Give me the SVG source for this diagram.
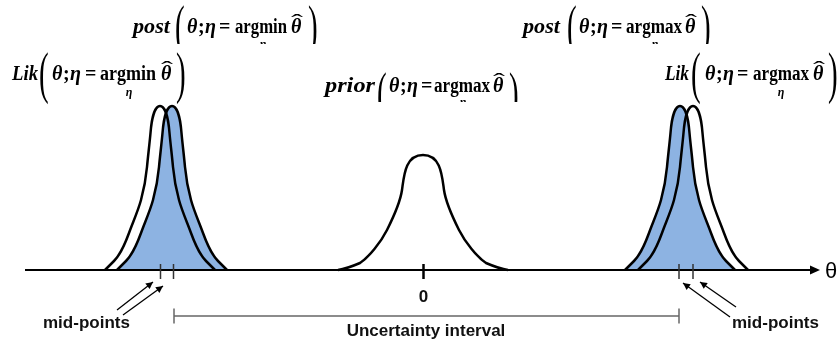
<svg xmlns="http://www.w3.org/2000/svg" xmlns:xlink="http://www.w3.org/1999/xlink" width="837" height="343" viewBox="0 0 837 343">
<style>
.m{font-family:"Liberation Serif","DejaVu Serif",serif;font-size:20px;font-weight:bold;fill:#000}
.i{font-style:italic}
.p{font-family:"Liberation Serif","DejaVu Serif",serif;font-size:58px;font-weight:normal;fill:#000}
.hat{font-family:"Liberation Serif","DejaVu Serif",serif;font-size:20px;font-weight:normal;fill:#000;text-anchor:middle}
.sub{font-family:"Liberation Serif","DejaVu Serif",serif;font-size:12px;font-style:italic;font-weight:bold;fill:#000}
.lbl{font-family:"Liberation Sans",Arial,sans-serif;font-weight:bold;font-size:17px;fill:#111}
.white{fill:#fff;stroke:#000;stroke-width:2.5;stroke-linejoin:round}
.blue{fill:#8db3e2;stroke:none;mix-blend-mode:multiply}
.edge{fill:none;stroke:#000;stroke-width:2.5;stroke-linejoin:round}
.tick{stroke:#333;stroke-width:1.5}
.arr{stroke:#000;stroke-width:1.3;fill:none;marker-end:url(#ah)}
.iv{stroke:#666;stroke-width:1.5}
</style>
<defs>
<path id="pk" d="M -55,0 C -52,-3 -49,-6 -46,-9 C -40,-15 -35,-26 -31,-37 C -27,-48 -22,-59 -19,-70 C -16,-81 -14,-92 -13,-103 C -12,-114 -10.5,-126 -9.5,-137 C -8.5,-150 -5.5,-164 0,-164 C 5.5,-164 8.5,-150 9.5,-137 C 10.5,-126 12,-114 13,-103 C 14,-92 16,-81 19,-70 C 22,-59 27,-48 31,-37 C 35,-26 40,-15 46,-9 C 49,-6 52,-3 55,0"/>
<path id="bump" d="M -85,0 C -78,-1 -70,-4 -63,-7 C -54,-13 -42,-28 -36,-40 C -30,-52 -23,-66 -21,-80 C -19,-94 -18,-115 0,-115 C 18,-115 19,-94 21,-80 C 23,-66 30,-52 36,-40 C 42,-28 54,-13 63,-7 C 70,-4 78,-1 85,0"/>
<marker id="ah" viewBox="0 0 10 10" refX="10" refY="5" markerWidth="8" markerHeight="7" markerUnits="userSpaceOnUse" orient="auto"><path d="M0,0 L10,5 L0,10 z" fill="#000"/></marker>
<clipPath id="clipTop"><rect x="0" y="0" width="837" height="44"/></clipPath>
<clipPath id="clipPrior"><rect x="0" y="60" width="837" height="42"/></clipPath>
</defs>

<g id="lik-min">
<use xlink:href="#pk" href="#pk" class="white" transform="translate(160,270)"/>
<text class="m i" x="12" y="80" textLength="26" lengthAdjust="spacingAndGlyphs">Lik</text>
<text class="p" transform="translate(39,92) scale(0.5,1)">(</text>
<text class="m i" x="52" y="80">θ</text>
<text class="m" x="63" y="80">;</text>
<text class="m i" x="70" y="80">η</text>
<text class="m" x="85" y="80">=</text>
<text class="m" x="100" y="80" textLength="56" lengthAdjust="spacingAndGlyphs">argmin</text>
<text class="sub" x="129" y="96" text-anchor="middle">η</text>
<text class="m i" x="161" y="80">θ</text>
<text class="hat" transform="translate(167,76) scale(1.8,1)">ˆ</text>
<text class="p" transform="translate(176,92) scale(0.5,1)">)</text>
</g>

<g id="post-min">
<use xlink:href="#pk" href="#pk" class="blue" transform="translate(172,270)"/>
<use xlink:href="#pk" href="#pk" class="edge" transform="translate(172,270)"/>
<text class="m i" x="133" y="33" textLength="37" lengthAdjust="spacingAndGlyphs">post</text>
<g clip-path="url(#clipTop)">
<text class="p" transform="translate(175,45) scale(0.5,1)">(</text>
<text class="p" transform="translate(308,45) scale(0.5,1)">)</text>
<text class="sub" x="263" y="48" text-anchor="middle">η</text>
</g>
<text class="m i" x="187" y="33">θ</text>
<text class="m" x="198" y="33">;</text>
<text class="m i" x="205" y="33">η</text>
<text class="m" x="219" y="33">=</text>
<text class="m" x="235" y="33" textLength="52" lengthAdjust="spacingAndGlyphs">argmin</text>
<text class="m i" x="291" y="33">θ</text>
<text class="hat" transform="translate(297,29) scale(1.8,1)">ˆ</text>
</g>

<g id="prior">
<use xlink:href="#bump" href="#bump" class="white" transform="translate(423,270)"/>
<text class="m i" x="325" y="92" textLength="50" lengthAdjust="spacingAndGlyphs">prior</text>
<g clip-path="url(#clipPrior)">
<text class="p" transform="translate(377,112) scale(0.5,1)">(</text>
<text class="p" transform="translate(509,112) scale(0.5,1)">)</text>
<text class="sub" x="463" y="106" text-anchor="middle">η</text>
</g>
<text class="m i" x="389" y="92">θ</text>
<text class="m" x="400" y="92">;</text>
<text class="m i" x="407" y="92">η</text>
<text class="m" x="421" y="92">=</text>
<text class="m" x="434" y="92" textLength="56" lengthAdjust="spacingAndGlyphs">argmax</text>
<text class="m i" x="493" y="92">θ</text>
<text class="hat" transform="translate(499,88) scale(1.8,1)">ˆ</text>
</g>

<g id="lik-max">
<use xlink:href="#pk" href="#pk" class="white" transform="translate(693,270)"/>
<text class="m i" x="665" y="80" textLength="24" lengthAdjust="spacingAndGlyphs">Lik</text>
<text class="p" transform="translate(691,92) scale(0.5,1)">(</text>
<text class="m i" x="705" y="80">θ</text>
<text class="m" x="716" y="80">;</text>
<text class="m i" x="723" y="80">η</text>
<text class="m" x="737" y="80">=</text>
<text class="m" x="753" y="80" textLength="56" lengthAdjust="spacingAndGlyphs">argmax</text>
<text class="sub" x="781" y="96" text-anchor="middle">η</text>
<text class="m i" x="813" y="80">θ</text>
<text class="hat" transform="translate(819,76) scale(1.8,1)">ˆ</text>
<text class="p" transform="translate(828,92) scale(0.5,1)">)</text>
</g>

<g id="post-max">
<use xlink:href="#pk" href="#pk" class="blue" transform="translate(680,270)"/>
<use xlink:href="#pk" href="#pk" class="edge" transform="translate(680,270)"/>
<text class="m i" x="523" y="33" textLength="37" lengthAdjust="spacingAndGlyphs">post</text>
<g clip-path="url(#clipTop)">
<text class="p" transform="translate(567,45) scale(0.5,1)">(</text>
<text class="p" transform="translate(701,45) scale(0.5,1)">)</text>
<text class="sub" x="655" y="48" text-anchor="middle">η</text>
</g>
<text class="m i" x="579" y="33">θ</text>
<text class="m" x="590" y="33">;</text>
<text class="m i" x="597" y="33">η</text>
<text class="m" x="611" y="33">=</text>
<text class="m" x="626" y="33" textLength="56" lengthAdjust="spacingAndGlyphs">argmax</text>
<text class="m i" x="685" y="33">θ</text>
<text class="hat" transform="translate(691,29) scale(1.8,1)">ˆ</text>
</g>

<g id="axis">
<line x1="25" y1="270" x2="812" y2="270" stroke="#000" stroke-width="2"/>
<polygon points="810,265.5 820,270 810,274.5" fill="#000"/>
<text x="825" y="278" font-family="Liberation Sans, Arial, sans-serif" font-size="22" fill="#000">θ</text>
<line class="tick" x1="160.5" y1="264" x2="160.5" y2="279"/>
<line class="tick" x1="173.5" y1="264" x2="173.5" y2="279"/>
<line class="tick" x1="679" y1="264" x2="679" y2="279"/>
<line class="tick" x1="693" y1="264" x2="693" y2="279"/>
<line x1="423.5" y1="264" x2="423.5" y2="279" stroke="#000" stroke-width="2.5"/>
<text class="lbl" x="423.5" y="302" text-anchor="middle" font-size="19">0</text>
</g>

<g id="connectors">
<line class="arr" x1="117" y1="310" x2="153" y2="282"/>
<line class="arr" x1="123" y1="315" x2="163" y2="286"/>
<line class="arr" x1="730" y1="317" x2="683" y2="283"/>
<line class="arr" x1="736" y1="307" x2="700" y2="282"/>
</g>

<g id="mid-points-left">
<text class="lbl" x="43" y="328">mid-points</text>
</g>
<g id="mid-points-right">
<text class="lbl" x="732" y="328">mid-points</text>
</g>

<g id="uncertainty-interval">
<line class="iv" x1="174" y1="316" x2="679" y2="316"/>
<line class="iv" x1="174" y1="308.5" x2="174" y2="323.5"/>
<line class="iv" x1="679" y1="308.5" x2="679" y2="323.5"/>
<text class="lbl" x="426" y="336" text-anchor="middle" font-size="17.5">Uncertainty interval</text>
</g>
</svg>
